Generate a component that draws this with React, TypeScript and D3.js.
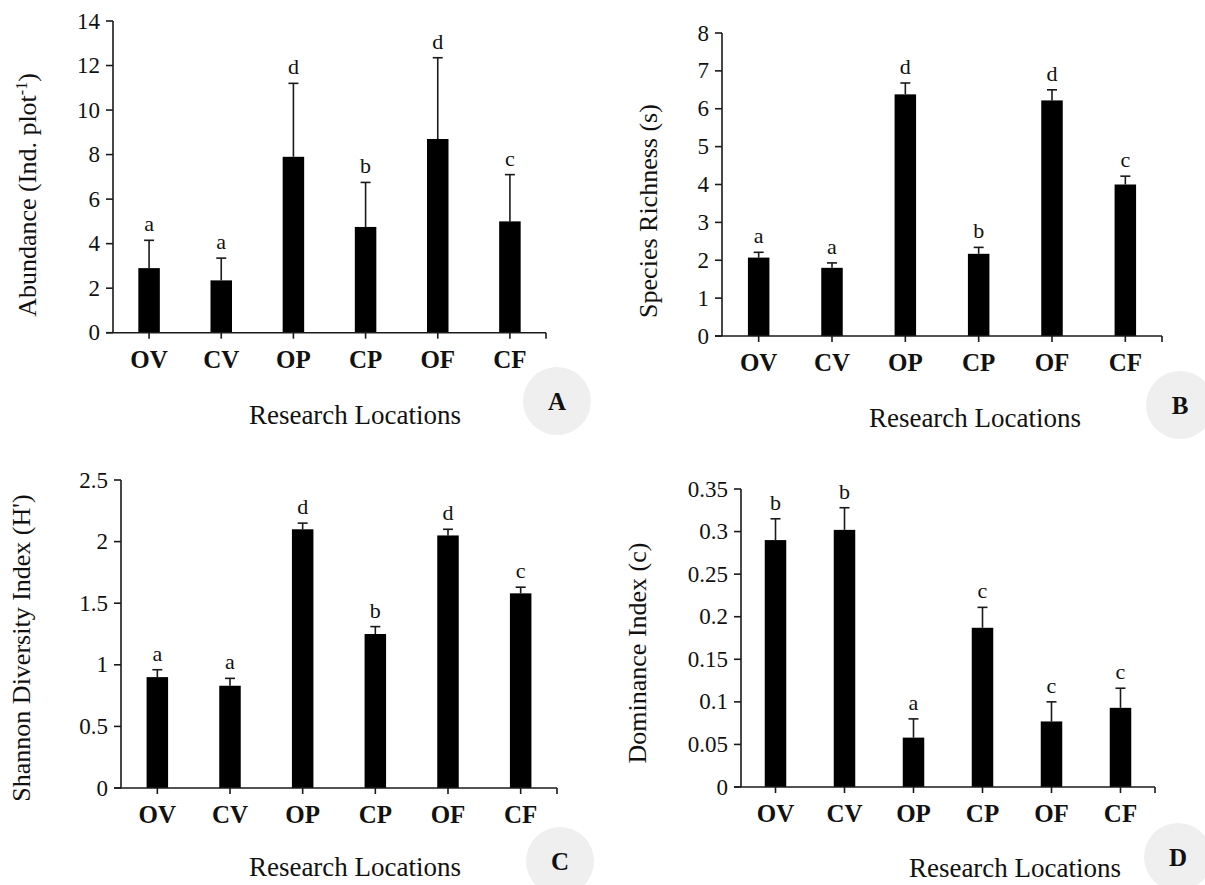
import React from "react";
import * as d3 from "d3";

const categories = ["OV", "CV", "OP", "CP", "OF", "CF"];

const abundance = [2.9, 2.35, 7.9, 4.75, 8.7, 5.0];
const abundanceErr = [1.25, 1.0, 3.3, 2.0, 3.65, 2.1];
const abundanceLetters = ["a", "a", "d", "b", "d", "c"];
const abundanceTicks = [0, 2, 4, 6, 8, 10, 12, 14];
const abundanceTickLabels = ["0", "2", "4", "6", "8", "10", "12", "14"];

const richness = [2.07, 1.8, 6.38, 2.17, 6.22, 4.0];
const richnessErr = [0.14, 0.13, 0.3, 0.17, 0.28, 0.22];
const richnessLetters = ["a", "a", "d", "b", "d", "c"];
const richnessTicks = [0, 1, 2, 3, 4, 5, 6, 7, 8];
const richnessTickLabels = ["0", "1", "2", "3", "4", "5", "6", "7", "8"];

const shannon = [0.9, 0.83, 2.1, 1.25, 2.05, 1.58];
const shannonErr = [0.06, 0.06, 0.05, 0.06, 0.05, 0.05];
const shannonLetters = ["a", "a", "d", "b", "d", "c"];
const shannonTicks = [0, 0.5, 1, 1.5, 2, 2.5];
const shannonTickLabels = ["0", "0.5", "1", "1.5", "2", "2.5"];

const dominance = [0.29, 0.302, 0.058, 0.187, 0.077, 0.093];
const dominanceErr = [0.025, 0.026, 0.022, 0.024, 0.023, 0.023];
const dominanceLetters = ["b", "b", "a", "c", "c", "c"];
const dominanceTicks = [0, 0.05, 0.1, 0.15, 0.2, 0.25, 0.3, 0.35];
const dominanceTickLabels = ["0", "0.05", "0.1", "0.15", "0.2", "0.25", "0.3", "0.35"];

const FONT = "'Liberation Serif', 'Times New Roman', serif";

type PanelProps = {
  values: number[];
  errs: number[];
  letters: string[];
  ticks: number[];
  tickLabels: string[];
  max: number;
  x0: number;
  x1: number;
  yZero: number;
  yTop: number;
  yTitle: React.ReactNode;
  yTitleX: number;
  yTitleY: number;
  xTitleX: number;
  xTitleY: number;
  badge: string;
  badgeX: number;
  badgeY: number;
};

function Panel(p: PanelProps) {
  const x = d3.scaleBand<string>().domain(categories).range([p.x0, p.x1]);
  const y = d3.scaleLinear().domain([0, p.max]).range([p.yZero, p.yTop]);
  const bw = 21.5;
  const stroke = "#1a1a1a";
  return (
    <g>
      {categories.map((c, i) => {
        const cx = (x(c) as number) + x.bandwidth() / 2;
        const top = y(p.values[i]);
        const errTop = y(p.values[i] + p.errs[i]);
        return (
          <g key={c}>
            <line x1={cx} x2={cx} y1={top} y2={errTop} stroke={stroke} strokeWidth={1.6} />
            <line x1={cx - 5} x2={cx + 5} y1={errTop} y2={errTop} stroke={stroke} strokeWidth={1.6} />
            <rect x={cx - bw / 2} y={top} width={bw} height={p.yZero - top} fill="#000" />
            <text x={cx} y={errTop - 9} textAnchor="middle" fontFamily={FONT} fontSize={22} fill="#111">
              {p.letters[i]}
            </text>
            <line x1={cx} x2={cx} y1={p.yZero} y2={p.yZero + 6} stroke={stroke} strokeWidth={1.6} />
            <text x={cx} y={p.yZero + 35} textAnchor="middle" fontFamily={FONT} fontWeight="bold" fontSize={25} fill="#111">
              {c}
            </text>
          </g>
        );
      })}
      <line x1={p.x0} x2={p.x0} y1={p.yTop} y2={p.yZero} stroke={stroke} strokeWidth={1.6} />
      {p.ticks.map((t, i) => (
        <g key={"t" + i}>
          <line x1={p.x0 - 7} x2={p.x0} y1={y(t)} y2={y(t)} stroke={stroke} strokeWidth={1.6} />
          <text x={p.x0 - 13} y={y(t) + 7.5} textAnchor="end" fontFamily={FONT} fontSize={23} fill="#111">
            {p.tickLabels[i]}
          </text>
        </g>
      ))}
      <line x1={p.x0 - 7} x2={p.x1} y1={p.yZero} y2={p.yZero} stroke={stroke} strokeWidth={1.6} />
      <line x1={p.x1} x2={p.x1} y1={p.yZero} y2={p.yZero + 6} stroke={stroke} strokeWidth={1.6} />
      <text
        transform={`translate(${p.yTitleX},${p.yTitleY}) rotate(-90)`}
        textAnchor="middle"
        fontFamily={FONT}
        fontSize={26}
        fill="#111"
      >
        {p.yTitle}
      </text>
      <text x={p.xTitleX} y={p.xTitleY} textAnchor="middle" fontFamily={FONT} fontSize={27} fill="#111">
        Research Locations
      </text>
      <circle cx={p.badgeX} cy={p.badgeY} r={34} fill="#efefef" />
      <text x={p.badgeX} y={p.badgeY + 9} textAnchor="middle" fontFamily={FONT} fontWeight="bold" fontSize={25} fill="#111">
        {p.badge}
      </text>
    </g>
  );
}

export default function App() {
  return (
    <div style={{ position: "absolute", left: 0, top: 0 }}>
      <svg width={1205} height={885} style={{ display: "block", background: "#fff" }}>
        <Panel
          values={abundance}
          errs={abundanceErr}
          letters={abundanceLetters}
          ticks={abundanceTicks}
          tickLabels={abundanceTickLabels}
          max={14}
          x0={113}
          x1={546}
          yZero={332.7}
          yTop={21}
          yTitle={
            <>
              Abundance (Ind. plot<tspan dy={-9} fontSize={16}>-1</tspan>
              <tspan dy={9}>)</tspan>
            </>
          }
          yTitleX={36}
          yTitleY={195}
          xTitleX={355}
          xTitleY={424}
          badge="A"
          badgeX={557}
          badgeY={401}
        />
        <Panel
          values={richness}
          errs={richnessErr}
          letters={richnessLetters}
          ticks={richnessTicks}
          tickLabels={richnessTickLabels}
          max={8}
          x0={722}
          x1={1162}
          yZero={336}
          yTop={33}
          yTitle="Species Richness (s)"
          yTitleX={657}
          yTitleY={211}
          xTitleX={975}
          xTitleY={427}
          badge="B"
          badgeX={1180}
          badgeY={405}
        />
        <Panel
          values={shannon}
          errs={shannonErr}
          letters={shannonLetters}
          ticks={shannonTicks}
          tickLabels={shannonTickLabels}
          max={2.5}
          x0={121}
          x1={557}
          yZero={788}
          yTop={480}
          yTitle="Shannon Diversity Index (H')"
          yTitleX={30}
          yTitleY={648}
          xTitleX={355}
          xTitleY={876}
          badge="C"
          badgeX={560}
          badgeY={861}
        />
        <Panel
          values={dominance}
          errs={dominanceErr}
          letters={dominanceLetters}
          ticks={dominanceTicks}
          tickLabels={dominanceTickLabels}
          max={0.35}
          x0={741}
          x1={1155}
          yZero={787}
          yTop={489}
          yTitle="Dominance Index (c)"
          yTitleX={646}
          yTitleY={653}
          xTitleX={1015}
          xTitleY={877}
          badge="D"
          badgeX={1178}
          badgeY={857}
        />
      </svg>
    </div>
  );
}
